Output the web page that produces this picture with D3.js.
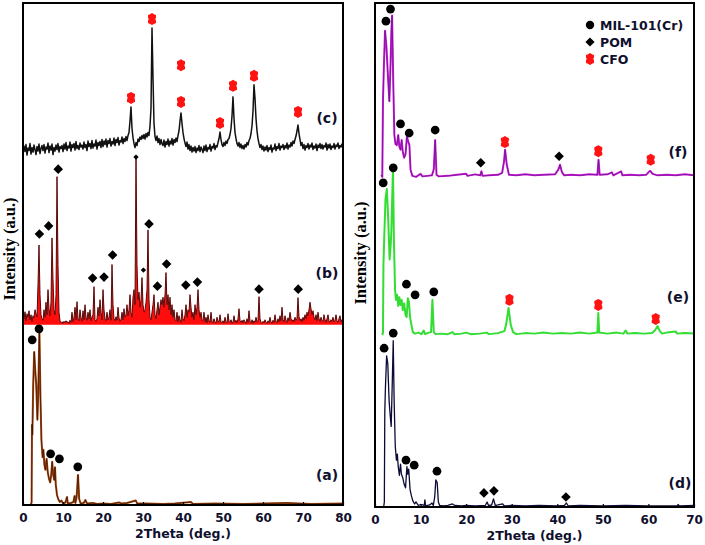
<!DOCTYPE html>
<html lang="en">
<head>
<meta charset="utf-8">
<script src="https://d3js.org/d3.v7.min.js"></script>
<style>
  body { margin: 0; background: #fff; }
  svg { display: block; }
</style>
</head>
<body>
<script type="text/javascript">

// ---------- data ----------
// noisy scans on a regular 2Theta grid: 0, 0.25, 0.5 ... 80
var gridStep = 0.25;

// (c) CFO scan
var cIntensity = [
  0.2,1.5,0.4,1.8,-0.3,1.1,0.6,2.0,-0.1,1.2,0.3,1.7,0.8,-0.2,1.4,0.5,1.9,0.0,1.0,1.6,
  0.6,1.8,0.1,1.3,0.9,2.1,0.2,1.5,0.7,1.9,-0.2,1.2,0.5,1.7,0.8,2.0,0.3,1.4,1.0,1.6,
  0.4,1.9,0.9,2.2,0.6,1.5,1.1,2.3,0.5,1.8,1.2,2.0,0.7,2.4,1.0,1.6,0.8,2.1,1.3,1.7,
  0.9,2.3,1.2,1.8,0.6,2.5,1.4,2.0,1.0,2.6,1.1,1.9,1.5,2.7,0.9,2.2,1.6,2.4,1.2,2.8,
  1.4,2.5,1.8,2.9,1.3,2.6,2.0,3.0,1.5,2.4,1.9,3.1,1.6,2.8,2.2,3.2,1.7,2.6,2.3,3.3,
  2.0,3.0,2.4,3.4,2.6,3.6,4.2,6.5,9.3,5.0,3.2,2.0,1.2,2.2,1.6,2.9,2.4,3.3,2.8,3.6,
  3.0,3.8,2.9,4.0,3.3,4.2,3.6,5.5,9.0,25.0,15.0,6.0,3.4,2.6,3.5,2.2,3.0,1.8,2.8,2.0,
  1.6,2.7,1.3,2.4,1.8,2.9,1.5,2.5,1.9,3.0,1.7,2.8,2.2,3.1,2.4,3.6,4.5,6.5,8.1,6.0,
  4.2,3.0,2.1,1.4,2.3,0.9,1.8,0.6,1.5,0.3,1.2,0.5,1.4,0.2,1.1,0.6,1.6,0.4,1.3,0.8,
  0.2,1.5,0.6,1.7,0.4,1.2,0.9,1.8,0.5,1.4,1.1,2.0,0.8,1.6,1.3,2.2,3.0,4.3,2.8,1.8,
  1.4,2.2,1.6,2.5,2.0,2.8,3.0,3.8,5.0,7.5,11.3,7.0,4.2,3.0,2.0,1.5,2.2,1.2,1.9,1.0,
  1.6,0.9,1.8,1.3,2.2,1.7,2.6,3.0,4.0,5.5,8.5,13.7,11.0,7.0,4.5,3.0,2.0,1.2,1.8,0.8,
  1.5,0.5,1.3,0.7,1.6,0.4,1.2,0.8,1.7,0.3,1.1,0.9,1.9,0.6,1.4,1.0,2.0,0.7,1.5,1.2,
  1.8,0.8,1.6,1.1,2.1,0.9,1.7,1.3,2.2,1.5,2.5,2.0,2.8,3.5,4.5,5.7,4.0,2.8,1.6,2.2,
  1.0,1.8,0.7,1.6,1.2,2.0,0.9,1.7,1.3,2.1,0.8,1.5,1.1,1.9,0.6,1.7,1.2,2.0,1.0,1.8,
  0.9,1.6,1.3,2.1,0.7,1.8,1.1,1.9,0.8,1.5,1.2,2.0,0.9,1.7,1.4,2.1,1.0,1.6,1.3,1.9,1.1
];

// (b) POM scan
var bIntensity = [
  2.4,1.2,2.6,0.8,2.2,1.5,2.8,1.0,2.0,0.6,1.8,1.4,3.0,2.2,1.6,8.0,15.9,6.0,2.0,1.2,
  0.9,3.0,1.5,4.5,2.0,7.0,3.2,1.8,4.5,17.3,9.0,3.0,2.0,6.0,29.5,12.0,2.5,0.8,0.4,0.6,
  0.3,0.7,0.4,0.8,0.5,0.6,0.3,0.9,0.5,2.5,0.6,1.5,3.5,1.0,4.6,1.2,0.8,3.0,1.4,0.7,
  2.8,1.0,4.0,1.5,0.9,2.5,1.2,3.0,0.8,1.6,2.0,7.6,1.0,0.7,1.2,3.5,1.8,5.0,2.5,1.0,
  7.0,3.0,1.2,0.8,2.5,1.0,1.5,3.0,0.9,12.0,4.0,1.2,0.8,1.6,0.9,3.5,1.4,0.7,1.1,2.5,
  1.0,3.2,1.5,2.0,4.0,1.8,3.0,6.0,2.5,1.5,5.5,7.0,4.0,33.5,12.0,5.0,6.5,3.5,5.0,9.4,
  4.0,2.5,3.0,4.5,7.0,18.9,5.0,1.5,1.0,2.5,4.0,6.0,2.0,1.2,3.0,4.5,2.0,3.5,5.0,4.0,
  5.5,3.5,6.0,10.4,4.0,6.0,3.0,5.5,2.0,4.0,1.5,3.0,1.0,0.8,2.5,0.6,1.8,1.0,0.5,3.0,
  1.2,0.8,2.0,4.0,1.5,3.0,2.5,6.0,3.5,1.5,2.5,1.0,4.0,2.0,3.5,7.0,3.0,1.5,2.5,0.8,
  1.0,2.5,0.6,1.5,0.4,2.0,0.8,0.5,2.5,0.7,0.4,1.2,0.6,0.3,1.5,0.8,0.5,2.0,0.6,0.4,
  0.8,0.3,1.5,0.6,0.4,2.2,0.7,0.5,1.0,0.3,0.6,1.8,0.5,0.9,0.4,1.2,3.2,0.8,0.5,0.9,
  0.4,1.0,0.6,0.3,1.2,0.5,2.8,0.7,0.4,1.0,0.3,0.8,0.5,1.5,0.6,0.9,5.6,1.2,0.5,0.3,
  0.7,0.4,1.0,0.5,0.3,0.8,0.4,1.5,0.6,0.3,0.9,0.5,2.0,0.7,0.4,1.2,0.6,1.8,0.8,3.5,
  1.0,0.6,1.8,0.9,0.5,1.4,0.8,2.5,1.2,0.7,1.0,0.6,1.5,0.9,1.3,5.4,1.6,0.8,1.2,0.6,
  1.5,0.9,2.0,1.2,2.5,1.8,3.0,4.5,3.2,2.0,2.8,1.5,1.0,2.0,0.8,2.5,1.2,0.7,1.5,0.9,
  0.6,2.0,1.0,0.5,1.2,2.0,0.8,0.5,1.0,0.7,1.5,0.6,0.9,2.0,0.8,0.5,1.2,1.8,0.6,1.0,1.3
];

// smoother scans as [2Theta, intensity] pairs
var aPoints = [[1.9,0],[2.15,0.5],[2.25,16],[2.35,14],[2.55,24],[2.8,30.5],[3.05,27],[3.3,24],[3.6,17],[3.8,22],
  [4.1,35],[4.35,22],[4.6,13],[4.9,9.5],[5.1,11],[5.35,8],[5.6,7],[5.9,9.2],[6.2,6.5],[6.5,5.2],[6.8,4.5],
  [7.05,6],[7.3,8.6],[7.55,6],[7.8,5],[8.0,7.5],[8.2,4],[8.5,2],[8.8,1.2],[9.2,0.6],[9.6,0.9],[10.0,0.3],
  [10.6,0.5],[11.0,1.6],[11.2,0.3],[12.0,0.4],[12.6,0.6],[12.9,1.8],[13.1,0.4],[13.4,1.5],[13.75,6],[14.05,1.2],
  [14.4,0.3],[15.2,0.4],[15.6,1.0],[16.0,0.3],[17.5,0.4],[18.5,0.2],[20,0.3],[22,0.2],[24,0.5],[24.6,0.3],
  [26,0.4],[28.2,0.9],[28.5,0.3],[31,0.3],[35,0.2],[38,0.3],[42,0.6],[42.5,0.2],[48,0.3],[55,0.2],[60,0.3],
  [66,0.4],[72,0.2],[80,0.3]];

var dPoints = [[1.9,0],[2.05,1],[2.15,19],[2.3,24],[2.55,30],[2.8,28.5],[3.1,21],[3.35,18],[3.55,16],[3.8,25],
  [4.0,33],[4.2,21],[4.45,12],[4.7,9.3],[4.9,10.5],[5.1,8],[5.35,6.3],[5.6,8.5],[5.8,6.5],[6.1,5.8],[6.4,4.5],
  [6.7,3.8],[7.0,8],[7.2,6.5],[7.4,7.5],[7.7,3.4],[8.0,2.2],[8.3,1.2],[8.7,0.6],[9.0,1.0],[9.5,0.3],[10.0,0.5],
  [10.8,0.3],[10.95,1.4],[11.1,0.2],[12.0,0.4],[12.5,0.8],[12.8,0.3],[13.1,2],[13.35,5.4],[13.65,4.8],[13.9,1],
  [14.2,0.3],[15,0.2],[16,0.3],[17,0.6],[17.5,0.3],[19,0.2],[20,0.3],[22,0.2],[24.2,0.3],[24.6,1.0],[24.9,0.3],
  [25.6,0.4],[26.0,1.6],[26.4,0.3],[27,0.4],[28,0.6],[28.4,0.2],[30,0.3],[33,0.2],[36,0.3],[40,0.2],[41.6,0.3],
  [42.0,0.8],[42.4,0.2],[45,0.3],[50,0.2],[55,0.3],[60,0.2],[66.3,0.2],[66.5,0.5],[66.8,0.2],[70,0.3]];

var ePoints = [[1.6,0],[1.75,0.5],[1.85,14],[2.05,20],[2.3,27],[2.6,29],[2.9,23],[3.2,15],[3.45,18],[3.6,21],
  [3.8,28],[3.95,33],[4.15,19],[4.4,9],[4.6,7],[4.85,8],[5.1,5.8],[5.35,7.5],[5.6,6],[5.85,7],[6.1,5],[6.4,6.3],
  [6.7,4],[6.95,3.6],[7.2,7.3],[7.45,6.6],[7.7,3.5],[8.0,2],[8.3,0.6],[8.8,0.3],[9.5,0.5],[10.2,0.2],[10.7,0.9],
  [11.0,0.2],[11.8,0.5],[12.3,0.6],[12.6,7],[12.9,0.6],[13.3,0.2],[14.5,0.3],[16,0.2],[17,0.6],[17.4,0.2],
  [19,0.3],[20,0.5],[21,0.2],[23,0.3],[24.5,0.5],[25,0.2],[27,0.4],[28.4,0.8],[28.8,2.2],[29.3,5.4],[29.8,2.0],
  [30.3,0.6],[31,0.2],[33,0.4],[35,0.3],[37,0.5],[39,0.3],[41,0.4],[43,0.3],[45,0.5],[47,0.3],[48.8,0.5],
  [49.0,4.4],[49.2,0.5],[51,0.3],[53,0.5],[54.5,0.3],[55,0.9],[55.4,0.3],[57,0.4],[59,0.3],[60.8,0.4],
  [61.5,1.0],[62.0,1.8],[62.5,0.8],[63,0.3],[64,0.5],[66,0.7],[66.3,0.3],[68,0.4],[70,0.3]];

var fPoints = [[1.4,0.4],[1.6,0],[1.75,15],[1.95,22],[2.2,29],[2.5,26],[2.9,19],[3.15,15],[3.4,22],[3.6,29],
  [3.75,32],[4.0,19],[4.25,8.3],[4.5,6.5],[4.8,6.3],[5.1,8.3],[5.35,6],[5.6,5.4],[5.85,7.3],[6.1,5],[6.4,3.8],
  [6.7,4.5],[7.0,8],[7.3,7],[7.55,6.3],[7.8,1.4],[8.2,0.2],[9,0],[10,0.6],[10.4,0.1],[11.5,0.2],[12.5,0.3],
  [12.9,1.5],[13.2,7.3],[13.5,0.4],[14,0.1],[16,0.2],[18,0.4],[20,0.6],[20.3,0.2],[22,0.5],[23.1,0.3],
  [23.35,1.1],[23.6,0.2],[25,0.3],[27,0.4],[27.9,0.8],[28.3,3],[28.55,5.4],[28.9,2.5],[29.4,0.4],[31,0.3],
  [33,0.5],[35,0.3],[37,0.4],[39.5,0.5],[40.2,1.4],[40.6,2.4],[41.0,1.0],[41.5,0.3],[43,0.4],[45,0.3],[47,0.5],
  [48.8,0.4],[49.05,3.4],[49.3,0.4],[51,0.5],[52,0.9],[52.3,0.3],[54,1.1],[54.3,0.3],[56,0.4],[58,0.3],
  [59.5,0.4],[60.0,0.9],[60.4,1.2],[60.9,0.6],[62,0.3],[64,0.4],[66,0.3],[68,0.5],[70,0.3]];

// phase markers: [2Theta, height above the scan's baseline]
var aMil = [[2.3,32.9],[4.0,35.1],[6.9,10.2],[9.1,9.2],[13.7,7.6]];
var bPom = [[4.1,18.1],[6.4,19.7],[8.8,31.0],[17.4,9.3],[20.25,9.5],[22.4,13.9],[31.5,20.1],[33.6,7.7],
  [35.9,12.1],[40.7,7.9],[43.6,8.5],[59,7.1],[68.8,7.1]];
var bPomSmall = [[28.25,33.4],[30.1,10.9]];
var cCfo = [[27.0,11.1],[32.25,26.8],[39.5,10.3],[39.5,17.6],[49.25,6.1],[52.5,13.5],[57.75,15.5],[68.75,8.3]];
var dMil = [[2.0,31.5],[4.0,34.5],[6.8,9.3],[8.6,8.3],[13.6,7.1]];
var dPom = [[23.9,2.8],[26.1,3.2],[41.9,2.0]];
var eMil = [[1.8,30.2],[4.0,33.2],[6.9,10.1],[8.8,8.0],[12.9,8.6]];
var eCfo = [[29.5,7.0],[49.0,6.0],[61.6,3.2]];
var fMil = [[2.4,30.9],[3.4,33.3],[5.6,10.5],[7.5,8.7],[13.2,9.3]];
var fPom = [[23.2,2.8],[40.4,4.1]];
var fCfo = [[28.5,6.9],[49.0,5.1],[60.5,3.4]];

var leftTicks = [0,10,20,30,40,50,60,70,80];
var rightTicks = [0,10,20,30,40,50,60,70];
var legendNames = ["MIL-101(Cr)", "POM", "CFO"];
var xTitle = "2Theta (deg.)";
var yTitle = "Intensity (a.u.)";

// ---------- drawing ----------
var width = 705, height = 545;
var svg = d3.select("body").append("svg")
  .attr("width", width)
  .attr("height", height);

var inkColor = "#0f0f2e";
var cfoPath = "M0,-6L2.5,-4.6L4,-4L4,-1.6L3.3,0L4,1.6L4,4L2.5,4.6L0,6L-2.5,4.6L-4,4L-4,1.6L-3.3,0L-4,-1.6L-4,-4L-2.5,-4.6Z";

function gridPoints(arr) {
  return arr.map(function(v, i) { return [i * gridStep, v]; });
}

function makePanel(id, xMax, ticks, left, right, top, bottom) {
  var x = d3.scaleLinear().domain([0, xMax]).range([left, right]);
  var y = d3.scaleLinear().domain([0, 100]).range([bottom, top]);

  svg.append("clipPath").attr("id", id)
    .append("rect")
    .attr("x", left).attr("y", top)
    .attr("width", right - left).attr("height", bottom - top);

  var g = svg.append("g");
  var plot = g.append("g").attr("clip-path", "url(#" + id + ")");

  var axis = g.append("g")
    .attr("transform", "translate(0," + bottom + ")")
    .call(d3.axisBottom(x).tickValues(ticks).tickSize(-3).tickPadding(8).tickFormat(d3.format("d")));
  axis.select(".domain").remove();
  axis.selectAll("line").attr("stroke", "#000").attr("stroke-width", 1.2);
  axis.selectAll("text")
    .style("font-family", "'DejaVu Sans', Verdana, sans-serif")
    .style("font-weight", "bold")
    .style("font-size", "12px")
    .attr("fill", inkColor);

  g.append("rect")
    .attr("x", left).attr("y", top)
    .attr("width", right - left).attr("height", bottom - top)
    .attr("fill", "none")
    .attr("stroke", "#000")
    .attr("stroke-width", 2);

  g.append("text")
    .attr("x", (left + right) / 2)
    .attr("y", bottom + 33)
    .attr("text-anchor", "middle")
    .style("font-family", "'DejaVu Sans', Verdana, sans-serif")
    .style("font-weight", "bold")
    .style("font-size", "12.5px")
    .attr("fill", inkColor)
    .text(xTitle);

  return { x: x, y: y, plot: plot, g: g };
}

function drawLine(p, pts, offset, color, w) {
  var line = d3.line()
    .x(function(d) { return p.x(d[0]); })
    .y(function(d) { return p.y(offset + d[1]); });
  p.plot.append("path")
    .datum(pts)
    .attr("d", line)
    .attr("fill", "none")
    .attr("stroke", color)
    .attr("stroke-width", w)
    .attr("stroke-linejoin", "round");
}

function drawMarkers(p, pts, offset, kind, size) {
  p.g.append("g").selectAll("path")
    .data(pts)
    .enter().append("path")
    .attr("transform", function(d) { return "translate(" + p.x(d[0]) + "," + p.y(offset + d[1]) + ")"; })
    .attr("d", function() {
      if (kind == "circle") return d3.symbol().type(d3.symbolCircle).size(size)();
      if (kind == "diamond") { var s = Math.sqrt(size) / 1.4; return "M0,-" + s + "L" + s + ",0L0," + s + "L-" + s + ",0Z"; }
      return cfoPath;
    })
    .attr("fill", kind == "cfo" ? "#ff1212" : "#000");
}

function panelLabel(p, x, y, txt) {
  p.g.append("text")
    .attr("x", x).attr("y", y)
    .attr("text-anchor", "middle")
    .style("font-family", "'DejaVu Sans', Verdana, sans-serif")
    .style("font-weight", "bold")
    .style("font-size", "14px")
    .attr("fill", inkColor)
    .text(txt);
}

function yLabel(x, y) {
  svg.append("text")
    .attr("transform", "translate(" + x + "," + y + ") rotate(-90)")
    .attr("text-anchor", "middle")
    .style("font-family", "'Liberation Serif', 'Times New Roman', serif")
    .style("font-weight", "bold")
    .style("font-size", "16.5px")
    .attr("fill", "#000")
    .text(yTitle);
}

// left panel
var L = makePanel("clipL", 80, leftTicks, 23, 343, 3, 505);
var offA = 0, offB = 35.9, offC = 70;

drawLine(L, aPoints, offA, "#a54a12", 2);
drawLine(L, aPoints, offA, "#3a1000", 0.7);

var bPts = gridPoints(bIntensity);
L.plot.append("path")
  .datum(bPts)
  .attr("d", d3.area()
    .x(function(d) { return L.x(d[0]); })
    .y0(L.y(offB))
    .y1(function(d) { return L.y(offB + d[1]); }))
  .attr("fill", "#ff0d0d");
drawLine(L, bPts, offB, "#5a0808", 1);

drawLine(L, gridPoints(cIntensity), offC, "#111111", 1.5);

drawMarkers(L, aMil, offA, "circle", 60);
drawMarkers(L, bPom, offB, "diamond", 45);
drawMarkers(L, bPomSmall, offB, "diamond", 14);
drawMarkers(L, cCfo, offC, "cfo");

panelLabel(L, 327, 123, "(c)");
panelLabel(L, 327, 278, "(b)");
panelLabel(L, 327, 480, "(a)");
yLabel(15, 249);

// right panel
var R = makePanel("clipR", 70, rightTicks, 375, 694, 3, 507);
var offD = 0, offE = 34.1, offF = 65.5;

drawLine(R, dPoints, offD, "#0b0b35", 1.3);
drawLine(R, ePoints, offE, "#33dd33", 2);
drawLine(R, fPoints, offF, "#d41ed4", 2);
drawLine(R, fPoints, offF, "#5a1190", 0.7);

drawMarkers(R, dMil, offD, "circle", 60);
drawMarkers(R, dPom, offD, "diamond", 45);
drawMarkers(R, eMil, offE, "circle", 60);
drawMarkers(R, eCfo, offE, "cfo");
drawMarkers(R, fMil, offF, "circle", 60);
drawMarkers(R, fPom, offF, "diamond", 45);
drawMarkers(R, fCfo, offF, "cfo");

panelLabel(R, 678, 157, "(f)");
panelLabel(R, 678, 302, "(e)");
panelLabel(R, 680, 488, "(d)");
yLabel(366, 253);

// legend
var legendKinds = ["circle", "diamond", "cfo"];
var legend = svg.append("g");
legendNames.forEach(function(name, i) {
  var ly = 25 + i * 17;
  var mk = legend.append("path")
    .attr("transform", "translate(590," + ly + ")")
    .attr("fill", legendKinds[i] == "cfo" ? "#ff1212" : "#000");
  if (legendKinds[i] == "circle") mk.attr("d", d3.symbol().type(d3.symbolCircle).size(55)());
  else if (legendKinds[i] == "diamond") mk.attr("d", "M0,-4.6L4.6,0L0,4.6L-4.6,0Z");
  else mk.attr("d", cfoPath);
  legend.append("text")
    .attr("x", 600).attr("y", ly + 4.5)
    .style("font-family", "'DejaVu Sans', Verdana, sans-serif")
    .style("font-weight", "bold")
    .style("font-size", "12.5px")
    .attr("fill", inkColor)
    .text(name);
});

</script>
</body>
</html>
